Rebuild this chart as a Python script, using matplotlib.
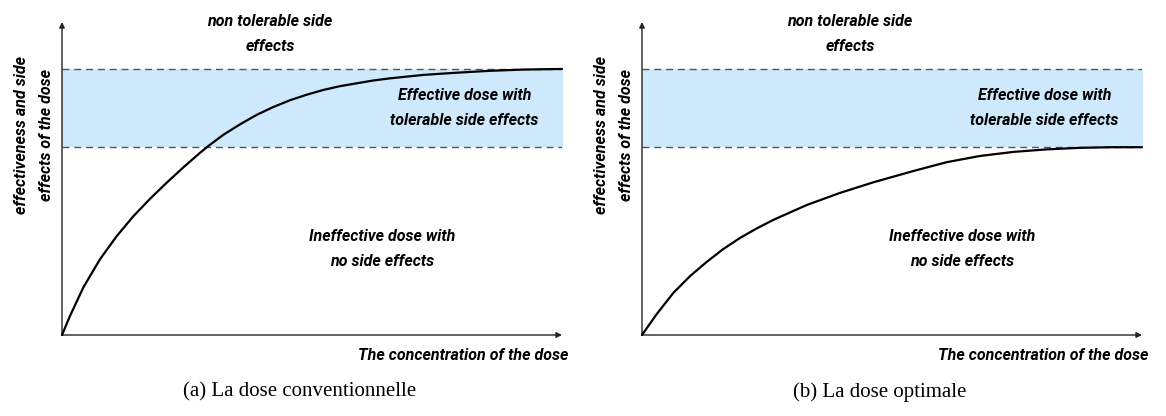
import matplotlib
matplotlib.use("Agg")
import matplotlib.pyplot as plt

# ---- data ----
x_conv = [0.0, 0.16, 0.43, 0.76, 1.09, 1.43, 1.76, 2.09, 2.43, 2.76, 2.92, 3.23,
          3.56, 3.89, 4.22, 4.56, 4.9, 5.23, 5.56, 5.89, 6.22, 6.56, 7.23, 7.89,
          8.56, 9.22, 10.0]
y_conv = [0.0, 0.61, 1.53, 2.42, 3.15, 3.80, 4.35, 4.86, 5.36, 5.82, 6.03, 6.40,
          6.73, 7.03, 7.28, 7.50, 7.68, 7.83, 7.95, 8.04, 8.13, 8.20, 8.31, 8.38,
          8.44, 8.48, 8.50]
x_opt = [0.0, 0.29, 0.63, 0.96, 1.29, 1.62, 1.96, 2.3, 2.63, 3.29, 3.96, 4.63,
         5.43, 6.09, 6.76, 7.43, 8.09, 8.76, 9.4, 10.0]
y_opt = [0.0, 0.66, 1.35, 1.88, 2.33, 2.74, 3.10, 3.41, 3.68, 4.15, 4.54, 4.88,
         5.24, 5.52, 5.72, 5.85, 5.93, 5.98, 6.0, 6.0]
band_low = 6.0
band_high = 8.5

captions = ["(a) La dose conventionnelle", "(b) La dose optimale"]
txt_top = "non tolerable side\neffects"
txt_band = "Effective dose with\ntolerable side effects"
txt_low = "Ineffective dose with\nno side effects"
txt_x = "The concentration of the dose"
txt_y = "effectiveness and side\neffects of the dose"

narrow = dict(family=["Roboto", "DejaVu Sans"], weight="bold", style="italic")

W, H = 1166, 416
fig = plt.figure(figsize=(W / 100, H / 100), dpi=100)

panels = [(62, x_conv, y_conv), (642, x_opt, y_opt)]
for (left_px, xs, ys), cap in zip(panels, captions):
    ax = fig.add_axes([left_px / W, (H - 335) / H, 500 / W, 313 / H])
    ax.set_xlim(0, 10)
    ax.set_ylim(0, 10)
    ax.axis("off")
    # band
    ax.fill_between([0, 10.06], band_low, band_high, color="#cfe9fc", lw=0, zorder=1)
    for yv in (band_low, band_high):
        ax.plot([0, 10], [yv, yv], ls=(0, (5, 3.5)), color="#555555", lw=1.0, zorder=2)
    # axes arrows
    ax.annotate("", xy=(0, 10), xytext=(0, 0),
                arrowprops=dict(arrowstyle="-|>", color="#222222", lw=1.0,
                                mutation_scale=8, shrinkA=0, shrinkB=0), zorder=3)
    ax.annotate("", xy=(10, 0), xytext=(0, 0),
                arrowprops=dict(arrowstyle="-|>", color="#222222", lw=1.0,
                                mutation_scale=8, shrinkA=0, shrinkB=0), zorder=3)
    # curve
    ax.plot(xs, ys, color="black", lw=1.6, zorder=4, solid_capstyle="round",
            solid_joinstyle="round", clip_on=False)
    # texts
    fs = 11.5
    ls = 1.8
    ax.text(4.16, 9.62, txt_top, ha="center", va="center", fontsize=fs,
            linespacing=ls, **narrow)
    ax.text(8.05, 7.25, txt_band, ha="center", va="center", fontsize=fs,
            linespacing=ls, **narrow)
    ax.text(6.4, 2.75, txt_low, ha="center", va="center", fontsize=fs,
            linespacing=ls, **narrow)
    ax.text(10.12, -0.67, txt_x, ha="right", va="center", fontsize=fs, **narrow)
    ax.text(-0.56, 6.4, txt_y, ha="center", va="center", rotation=90,
            fontsize=fs, linespacing=ls, **narrow)
    # caption
    cx = (left_px + 250 - 12) / W
    fig.text(cx, (H - 392) / H, cap, ha="center", va="center",
             fontsize=15, family="Liberation Serif")

fig.savefig("out.png", dpi=100)
